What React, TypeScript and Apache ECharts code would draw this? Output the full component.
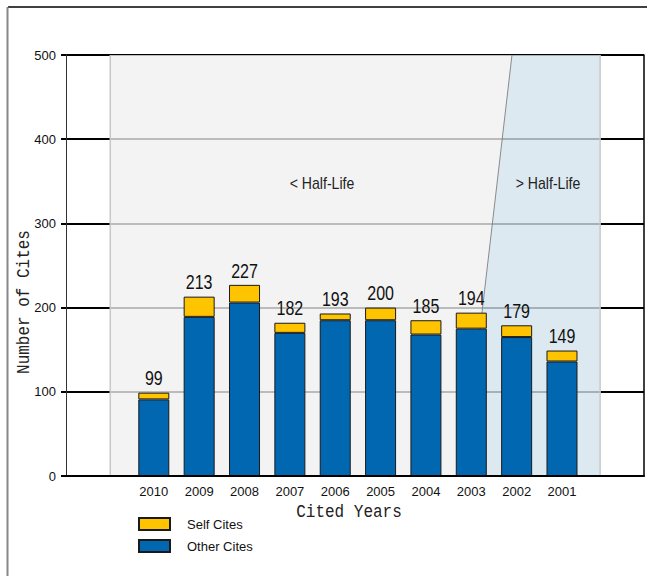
import { useEffect, useRef } from "react";
import * as echarts from "echarts";

// ---- data ----
const years = ["2010", "2009", "2008", "2007", "2006", "2005", "2004", "2003", "2002", "2001"];
const otherCites = [91, 189, 206, 170, 185, 185, 168, 175, 165, 136];
const selfCites = [8, 24, 21, 12, 8, 15, 17, 19, 14, 13];
const totals = otherCites.map((v, i) => v + selfCites[i]);
const yTicks = [0, 100, 200, 300, 400, 500];

// ---- axis / shading configuration (in axis units) ----
const Y_MIN = 0;
const Y_MAX = 500;
const Y_STEP = 100;
const X_MIN = -1.936;
const X_MAX = 10.808;
const SHADE_START = -0.96;
const SLANT_TOP = 7.897;
const SLANT_BOTTOM = 6.817;
const SHADE_END = 9.84;

const SANS = '"Liberation Sans Narrow", "Arial Narrow", "Liberation Sans", Arial, sans-serif';
const MONO = '"Liberation Mono", "DejaVu Sans Mono", monospace';

export default function App() {
  const ref = useRef<HTMLDivElement>(null);

  useEffect(() => {
    if (!ref.current) return;
    const chart = echarts.init(ref.current, null, { renderer: "svg" });

    const gridLeft = 66;
    const gridTop = 55;
    const gridWidth = 578;
    const gridHeight = 421;
    const unit = gridWidth / (X_MAX - X_MIN);
    const catLeft = gridLeft + (-0.5 - X_MIN) * unit;
    const catWidth = years.length * unit;

    chart.setOption({
      animation: false,
      grid: [
        { left: gridLeft, top: gridTop, width: gridWidth, height: gridHeight },
        { left: catLeft, top: gridTop, width: catWidth, height: gridHeight },
      ],
      xAxis: [
        {
          type: "value",
          gridIndex: 0,
          min: X_MIN,
          max: X_MAX,
          z: 5,
          axisLine: { show: true, onZero: false, lineStyle: { color: "#000", width: 2 } },
          axisTick: { show: false },
          axisLabel: { show: false },
          splitLine: { show: false },
        },
        {
          type: "category",
          gridIndex: 1,
          data: years,
          axisLine: { show: false },
          axisTick: { show: false },
          axisLabel: { fontFamily: SANS, fontSize: 13, color: "#111", margin: 9 },
          splitLine: { show: false },
        },
      ],
      yAxis: [
        {
          type: "value",
          gridIndex: 0,
          min: Y_MIN,
          max: Y_MAX,
          interval: Y_STEP,
          axisLine: { show: true, onZero: false, lineStyle: { color: "#333", width: 1 } },
          axisTick: { show: true, length: 5, lineStyle: { color: "#000", width: 2 } },
          axisLabel: {
            fontFamily: SANS,
            fontSize: 13,
            color: "#111",
            margin: 10,
            formatter: (v: number) => (yTicks.includes(v) ? String(v) : ""),
          },
          splitLine: { show: true, lineStyle: { color: "#000", width: 2 } },
        },
        {
          type: "value",
          gridIndex: 0,
          position: "right",
          min: Y_MIN,
          max: Y_MAX,
          interval: Y_STEP,
          axisLine: { show: true, onZero: false, lineStyle: { color: "#000", width: 1.5 } },
          axisTick: { show: false },
          axisLabel: { show: false },
          splitLine: { show: false },
        },
        {
          type: "value",
          gridIndex: 1,
          min: Y_MIN,
          max: Y_MAX,
          show: false,
          splitLine: { show: false },
        },
      ],
      legend: {
        data: ["Self Cites", "Other Cites"],
        orient: "vertical",
        left: 138,
        top: 517,
        padding: 0,
        itemWidth: 31,
        itemHeight: 12,
        itemGap: 8,
        icon: "rect",
        selectedMode: false,
        textStyle: {
          fontFamily: SANS,
          fontSize: 13,
          color: "#111",
          padding: [0, 0, 0, 12],
        },
      },
      series: [
        {
          type: "custom",
          name: "shade",
          xAxisIndex: 0,
          yAxisIndex: 0,
          z: 1,
          silent: true,
          clip: false,
          data: [[SHADE_START, Y_MAX]],
          renderItem: (_params: any, api: any) => {
            const tl = api.coord([SHADE_START, Y_MAX]);
            const bl = api.coord([SHADE_START, Y_MIN]);
            const st = api.coord([SLANT_TOP, Y_MAX]);
            const sb = api.coord([SLANT_BOTTOM, Y_MIN]);
            const tr = api.coord([SHADE_END, Y_MAX]);
            const br = api.coord([SHADE_END, Y_MIN]);
            return {
              type: "group",
              children: [
                {
                  type: "polygon",
                  shape: { points: [tl, st, sb, bl] },
                  style: { fill: "rgba(240,240,240,0.78)", stroke: null },
                },
                {
                  type: "polygon",
                  shape: { points: [st, tr, br, sb] },
                  style: { fill: "rgba(211,227,236,0.78)", stroke: null },
                },
                {
                  type: "line",
                  shape: { x1: tl[0], y1: tl[1], x2: bl[0], y2: bl[1] },
                  style: { stroke: "#c8c8c8", lineWidth: 1.5 },
                },
                {
                  type: "line",
                  shape: { x1: tr[0], y1: tr[1], x2: br[0], y2: br[1] },
                  style: { stroke: "#c8c8c8", lineWidth: 1.5 },
                },
                {
                  type: "line",
                  shape: { x1: st[0], y1: st[1], x2: sb[0], y2: sb[1] },
                  style: { stroke: "#8a8a8a", lineWidth: 1 },
                },
              ],
            };
          },
        },
        {
          type: "bar",
          name: "Other Cites",
          xAxisIndex: 1,
          yAxisIndex: 2,
          stack: "cites",
          barWidth: 31,
          z: 3,
          data: otherCites,
          itemStyle: { color: "#0067b0", borderColor: "#1a1a1a", borderWidth: 1 },
        },
        {
          type: "bar",
          name: "Self Cites",
          xAxisIndex: 1,
          yAxisIndex: 2,
          stack: "cites",
          barWidth: 31,
          z: 3,
          data: selfCites,
          itemStyle: { color: "#ffc400", borderColor: "#1a1a1a", borderWidth: 1 },
        },
        {
          type: "custom",
          name: "totals",
          xAxisIndex: 1,
          yAxisIndex: 2,
          z: 4,
          silent: true,
          clip: false,
          data: totals.map((t, i) => [i, t]),
          renderItem: (_params: any, api: any) => {
            const p = api.coord([api.value(0), api.value(1)]);
            return {
              type: "text",
              x: p[0],
              y: p[1] - 4,
              scaleX: 0.8,
              style: {
                text: String(api.value(1)),
                fontFamily: SANS,
                fontSize: 20,
                fill: "#111",
                align: "center",
                verticalAlign: "bottom",
              },
            };
          },
        },
      ],
      graphic: [
        {
          type: "line",
          shape: { x1: 8, y1: 7, x2: 647, y2: 7 },
          style: { stroke: "#000", lineWidth: 1.5 },
        },
        {
          type: "line",
          shape: { x1: 7.5, y1: 7, x2: 7.5, y2: 576 },
          style: { stroke: "#888", lineWidth: 2 },
        },
        {
          type: "text",
          x: 23.5,
          y: 302,
          rotation: Math.PI / 2,
          scaleY: 1.2,
          style: {
            text: "Number of Cites",
            fontFamily: MONO,
            fontSize: 16,
            fill: "#222",
            align: "center",
            verticalAlign: "middle",
          },
        },
        {
          type: "text",
          x: 349,
          y: 512,
          scaleY: 1.2,
          style: {
            text: "Cited Years",
            fontFamily: MONO,
            fontSize: 16,
            fill: "#222",
            align: "center",
            verticalAlign: "middle",
          },
        },
        {
          type: "text",
          x: 322,
          y: 183,
          z: 10,
          scaleX: 0.88,
          style: {
            text: "< Half-Life",
            fontFamily: SANS,
            fontSize: 16,
            fill: "#222",
            align: "center",
            verticalAlign: "middle",
          },
        },
        {
          type: "text",
          x: 548,
          y: 183,
          z: 10,
          scaleX: 0.88,
          style: {
            text: "> Half-Life",
            fontFamily: SANS,
            fontSize: 16,
            fill: "#222",
            align: "center",
            verticalAlign: "middle",
          },
        },
      ],
    });

    return () => chart.dispose();
  }, []);

  return (
    <div
      ref={ref}
      style={{ position: "absolute", left: 0, top: 0, width: 647, height: 576, background: "#fff" }}
    />
  );
}
